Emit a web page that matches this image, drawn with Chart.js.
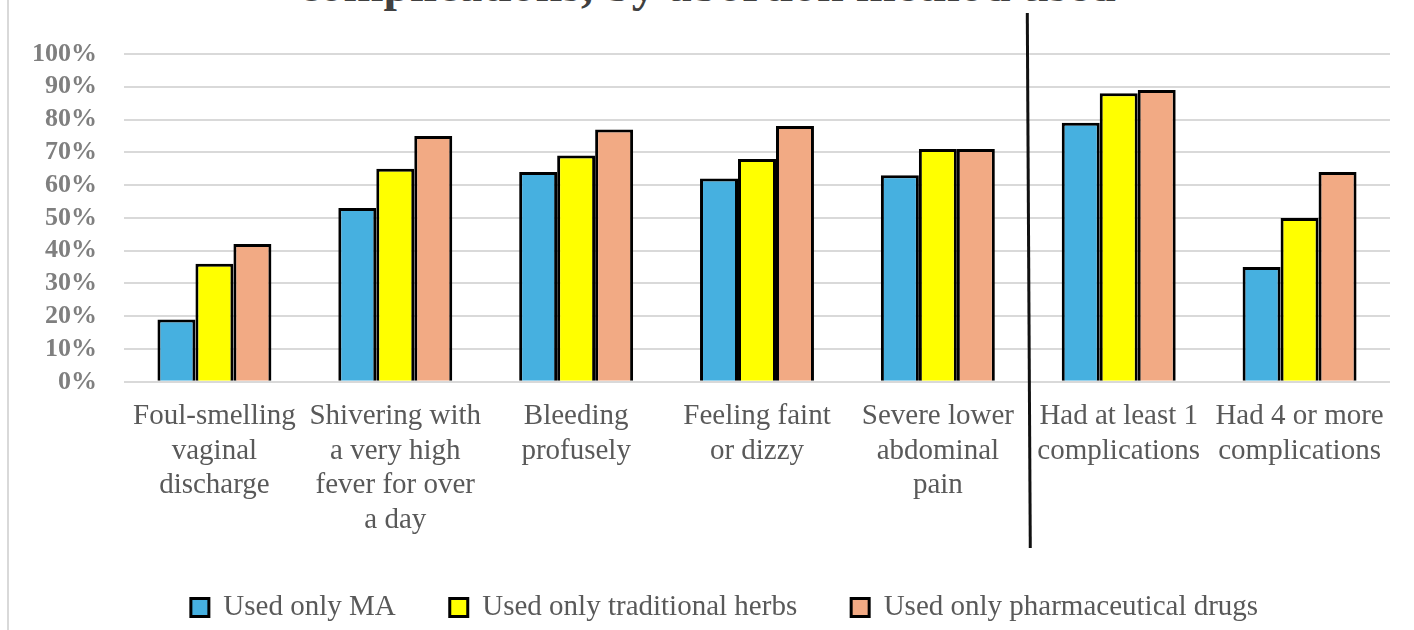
<!DOCTYPE html>
<html>
<head>
<meta charset="utf-8">
<script src="https://cdn.jsdelivr.net/npm/chart.js@4.4.1/dist/chart.umd.min.js"></script>
<style>
  html, body { margin: 0; padding: 0; background: #fff; }
  #wrap { position: relative; width: 1414px; height: 630px; overflow: hidden; }
  #frame { position: absolute; left: 7px; top: 0; width: 2px; height: 630px; background: #d9d9d9; }
  #title {
    position: absolute; left: 0; width: 1414px; top: -43px; text-align: center;
    font: bold 48px "Liberation Serif", serif; color: #404040; white-space: nowrap;
  }
  canvas { position: absolute; left: 0; top: 0; }
</style>
</head>
<body>
<div id="wrap">
  <div id="frame"></div>
  <div id="title">complications, by abortion method used</div>
  <canvas id="chart" width="1414" height="630"></canvas>
</div>
<script>
// categorías (etiquetas en varias líneas, como en la figura original)
const categories = [
  ['Foul-smelling', 'vaginal', 'discharge'],
  ['Shivering with', 'a very high', 'fever for over', 'a day'],
  ['Bleeding', 'profusely'],
  ['Feeling faint', 'or dizzy'],
  ['Severe lower', 'abdominal', 'pain'],
  ['Had at least 1', 'complications'],
  ['Had 4 or more', 'complications']
];

const seriesNames = ['Used only MA', 'Used only traditional herbs', 'Used only pharmaceutical drugs'];
const usedMA = [19, 53, 64, 62, 63, 79, 35];
const usedHerbs = [36, 65, 69, 68, 71, 88, 50];
const usedPharma = [42, 75, 77, 78, 71, 89, 64];

const yTicks = [0, 10, 20, 30, 40, 50, 60, 70, 80, 90, 100];

const serif = '"Liberation Serif", "Times New Roman", serif';

// línea vertical que separa los síntomas de los totales
const separatorLine = {
  id: 'separatorLine',
  afterDraw(chart) {
    const x = chart.scales.x;
    const px = (x.getPixelForValue(4) + x.getPixelForValue(5)) / 2;
    const ctx = chart.ctx;
    ctx.save();
    ctx.strokeStyle = '#111';
    ctx.lineWidth = 3;
    ctx.beginPath();
    ctx.moveTo(px - 1, 13);
    ctx.lineTo(px + 2, 548);
    ctx.stroke();
    ctx.restore();
  }
};

// la leyenda del original está algo desplazada a la derecha y más arriba
const legendShift = {
  id: 'legendShift',
  afterLayout(chart) {
    const lg = chart.legend;
    lg.left += 27;
    lg.right += 27;
    lg.top -= 16;
  }
};

const ctx = document.getElementById('chart');
new Chart(ctx, {
  type: 'bar',
  data: {
    labels: categories,
    datasets: [
      { label: seriesNames[0], data: usedMA, backgroundColor: '#46B0E0' },
      { label: seriesNames[1], data: usedHerbs, backgroundColor: '#FFFF00' },
      { label: seriesNames[2], data: usedPharma, backgroundColor: '#F2AA84' }
    ]
  },
  options: {
    responsive: false,
    animation: false,
    devicePixelRatio: 1,
    datasets: {
      bar: {
        borderColor: '#000',
        borderWidth: 3,
        categoryPercentage: 0.63,
        barPercentage: 1.0
      }
    },
    layout: { padding: { left: 5, right: 24, top: 54, bottom: 0 } },
    plugins: {
      title: { display: false },
      tooltip: { enabled: false },
      legend: {
        position: 'bottom',
        maxHeight: 75,
        labels: {
          color: '#595959',
          font: { family: serif, size: 29 },
          boxWidth: 18,
          boxHeight: 18,
          padding: 54
        }
      }
    },
    scales: {
      x: {
        grid: { display: false, drawTicks: false },
        border: { display: false },
        ticks: {
          color: '#595959',
          font: { family: serif, size: 29, lineHeight: 1.2 },
          maxRotation: 0,
          autoSkip: false,
          padding: 17
        }
      },
      y: {
        min: 0,
        max: 100,
        afterBuildTicks(axis) {
          axis.ticks = yTicks.map(v => ({ value: v }));
        },
        grid: { color: '#d9d9d9', lineWidth: 2, drawTicks: false },
        border: { display: false },
        ticks: {
          color: '#7f7f7f',
          font: { family: serif, size: 26, weight: 'bold' },
          padding: 27,
          autoSkip: false,
          callback: v => v + '%'
        }
      }
    }
  },
  plugins: [separatorLine, legendShift]
});
</script>
</body>
</html>
